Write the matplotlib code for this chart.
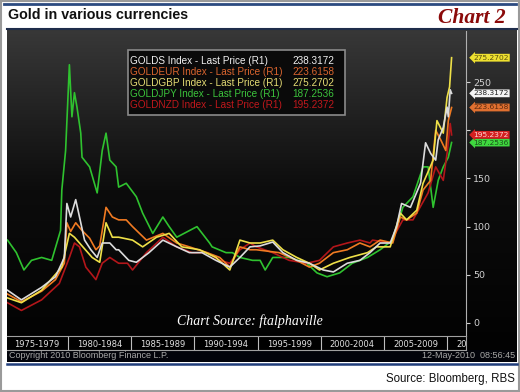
import numpy as np
import matplotlib.pyplot as plt
import matplotlib.patches as mpatches
import matplotlib.transforms as mtrans
from matplotlib.colors import LinearSegmentedColormap

# gold index by currency (year, value)
usd_t = [1975.2, 1976.3, 1977.9, 1979.0, 1979.7, 1979.9, 1980.2, 1980.6, 1980.9, 1981.3, 1981.8, 1982.3,
         1982.7, 1983.3, 1983.8, 1984.0, 1984.8, 1985.4, 1986.4, 1987.5, 1988.6, 1989.6, 1990.6, 1991.7,
         1992.8, 1993.6, 1994.4, 1995.2, 1996.2, 1997.0, 1998.1, 1999.1, 2000.2, 2001.0, 2002.1, 2003.1,
         2003.9, 2004.7, 2005.5, 2006.0, 2006.4, 2007.1, 2007.9, 2008.3, 2008.7, 2009.1, 2009.3, 2009.7,
         2010.0, 2010.1, 2010.25, 2010.36]
usd_v = [34, 24, 37, 48, 68, 124, 110, 128, 110, 86, 76, 68,
         83, 83, 76, 76, 65, 63, 73, 86, 79, 73, 73, 65,
         58, 68, 79, 80, 84, 73, 65, 62, 55, 53, 62, 65,
         73, 83, 83, 100, 124, 120, 145, 187, 176, 169, 190, 203,
         224, 214, 242, 238.3]

eur_t = [1975.2, 1976.3, 1977.9, 1979.0, 1979.7, 1979.9, 1980.2, 1980.6, 1981.1, 1981.7, 1982.2, 1982.5,
         1983.0, 1983.5, 1984.0, 1984.6, 1985.1, 1986.2, 1987.5, 1988.6, 1989.6, 1991.0, 1992.0, 1992.8,
         1993.6, 1994.4, 1994.9, 1996.7, 1998.1, 1999.1, 1999.9, 2001.0, 2002.1, 2003.1, 2003.9, 2004.7,
         2005.7, 2006.3, 2006.8, 2007.6, 2008.1, 2008.7, 2009.1, 2009.5, 2009.9, 2010.1, 2010.36]
eur_v = [30, 22, 33, 45, 62, 104, 95, 104, 96, 88, 76, 80,
         120, 110, 107, 107, 100, 86, 93, 83, 79, 73, 68, 58,
         79, 76, 76, 73, 65, 58, 62, 73, 76, 83, 79, 86,
         83, 110, 107, 114, 138, 148, 200, 190, 179, 210, 223.6]

gbp_t = [1975.2, 1976.3, 1977.9, 1979.5, 1980.1, 1980.5, 1980.9, 1981.9, 1982.5, 1983.0, 1983.5, 1984.0,
         1985.1, 1985.9, 1987.0, 1988.0, 1989.0, 1990.4, 1991.7, 1992.8, 1993.6, 1994.4, 1995.2, 1996.2,
         1997.0, 1998.1, 1999.1, 1999.9, 2001.0, 2002.3, 2003.7, 2004.4, 2005.5, 2006.3, 2006.8, 2007.6,
         2008.1, 2008.9, 2009.2, 2009.7, 2010.0, 2010.2, 2010.36]
gbp_v = [26, 21, 34, 58, 93, 89, 83, 68, 63, 104, 89, 89,
         86, 79, 89, 93, 79, 76, 68, 55, 86, 83, 83, 86,
         76, 68, 62, 55, 62, 68, 73, 79, 79, 114, 107, 117,
         145, 169, 210, 197, 234, 245, 275.3]

jpy_t = [1975.2, 1975.9, 1976.5, 1977.1, 1977.9, 1978.7, 1979.4, 1979.5, 1979.8, 1980.1, 1980.3, 1980.5,
         1980.7, 1981.0, 1981.1, 1981.7, 1982.3, 1982.7, 1983.0, 1983.3, 1983.8, 1984.0, 1984.6, 1985.4,
         1985.9, 1986.7, 1987.5, 1988.0, 1988.6, 1990.2, 1991.2, 1991.4, 1992.5, 1993.0, 1993.6, 1994.6,
         1995.2, 1995.6, 1996.2, 1997.5, 1998.9, 1999.7, 2000.5, 2001.5, 2002.5, 2003.7, 2004.7, 2005.7,
         2006.5, 2007.3, 2008.1, 2008.5, 2008.9, 2009.3, 2009.7, 2010.1, 2010.36]
jpy_v = [86, 73, 55, 65, 68, 65, 96, 138, 179, 268, 214, 239,
         224, 197, 172, 162, 135, 179, 197, 169, 162, 141, 145, 131,
         114, 93, 110, 100, 89, 100, 83, 79, 73, 73, 68, 65,
         65, 55, 68, 68, 62, 52, 48, 52, 62, 68, 76, 86,
         120, 131, 162, 162, 120, 148, 162, 172, 187.3]

nzd_t = [1975.2, 1976.3, 1977.9, 1979.3, 1980.1, 1980.5, 1980.9, 1981.4, 1982.2, 1982.7, 1983.3, 1984.0,
         1984.7, 1985.1, 1986.2, 1987.5, 1988.6, 1989.8, 1991.0, 1992.0, 1992.8, 1993.6, 1994.4, 1994.9,
         1996.2, 1997.5, 1998.9, 1999.9, 2001.0, 2002.1, 2003.1, 2003.9, 2004.1, 2005.5, 2006.5, 2007.3,
         2008.5, 2009.1, 2009.7, 2010.0, 2010.25, 2010.36]
nzd_v = [21, 13, 24, 41, 68, 83, 79, 58, 45, 62, 68, 62,
         62, 55, 73, 89, 79, 73, 73, 65, 62, 76, 83, 79,
         73, 65, 62, 65, 79, 83, 86, 83, 86, 83, 107, 107,
         135, 162, 148, 176, 207, 195.2]

names = ['GOLDS', 'GOLDEUR', 'GOLDGBP', 'GOLDJPY', 'GOLDNZD']
last_price = [238.3172, 223.6158, 275.2702, 187.2536, 195.2372]
periods = ['1975-1979', '1980-1984', '1985-1989', '1990-1994', '1995-1999', '2000-2004', '2005-2009', '2010-2014']
y_ticks = [0, 50, 100, 150, 200, 250]
y_labels = ['0', '50', '100', '150', '', '250']   # 200 sits under the price tags

line_cols = ['#dcdcdc', '#f07a22', '#eee048', '#2fc22f', '#b3161a']
text_cols = ['#f0f0f0', '#d9642e', '#e6dc74', '#3cc43c', '#c0181c']
tag_cols = ['#f4f4f4', '#e07030', '#eee030', '#3fd83f', '#d42020']
tag_txt = ['#222222', '#5a2a10', '#5a5010', '#1a501a', '#ffd0d0']

W, H = 520, 392
fig = plt.figure(figsize=(5.2, 3.92), dpi=100)
fig.patch.set_facecolor('white')

# page decoration in pixel coordinates
bg = fig.add_axes([0, 0, 1, 1])
bg.axis('off')
grad = np.linspace(0, 1, 200).reshape(-1, 1)
cm = LinearSegmentedColormap.from_list('panel', ['#020202', '#0c0c0c', '#383838'])
bg.imshow(grad, extent=[7, 517, 350, 29], origin='lower', cmap=cm, aspect='auto', zorder=1)
bg.set_xlim(0, W)
bg.set_ylim(H, 0)
bg.add_patch(mpatches.Rectangle((1, 1), W - 2, H - 2, fill=False, ec='#9a9a9a', lw=1.5))
bg.plot([4, 516], [3.5, 3.5], color='#2b4a80', lw=2)
bg.plot([7, 517], [28.5, 28.5], color='#1e2c4a', lw=1.5)
bg.add_patch(mpatches.Rectangle((7, 350), 510, 12, fc='#02030a', ec='none', zorder=2))
bg.plot([7, 517], [363.5, 363.5], color='#1f3c7a', lw=1.8)
bg.text(8, 15, 'Gold in various currencies', family='Liberation Sans', weight='bold',
        fontsize=10.3, va='center', color='#111111')
bg.text(506, 18, 'Chart 2', family='Liberation Serif', style='italic', weight='bold',
        fontsize=15.5, ha='right', va='center', color='#8b0a0a')
bg.text(515, 379, 'Source: Bloomberg, RBS', family='Liberation Sans', fontsize=8.3,
        ha='right', va='center', color='#111111')
bg.text(9, 356, 'Copyright 2010 Bloomberg Finance L.P.', family='Liberation Sans', fontsize=6.5,
        va='center', color='#a8a8a8', zorder=3)
bg.text(515, 356, '12-May-2010  08:56:45', family='Liberation Sans', fontsize=6.5,
        ha='right', va='center', color='#a8a8a8', zorder=3)

# main chart
x0, x1 = 1975.16, 2011.5
ax = fig.add_axes([7 / W, (H - 336) / H, 459 / W, 305 / H])
ax.set_facecolor('none')
series = [(usd_t, usd_v), (eur_t, eur_v), (gbp_t, gbp_v), (jpy_t, jpy_v), (nzd_t, nzd_v)]
for i in [3, 4, 1, 2, 0]:
    t, v = series[i]
    ax.plot(t, v, color=line_cols[i], lw=1.2, zorder=3)
ax.set_xlim(x0, x1)
ax.set_ylim(-13.5, 303)
for s in ['top', 'left', 'bottom']:
    ax.spines[s].set_visible(False)
ax.spines['right'].set_color('#b0b0b0')
ax.yaxis.tick_right()
ax.set_yticks(y_ticks)
ax.set_yticklabels(y_labels)
ax.tick_params(axis='y', colors='#d0d0d0', labelsize=6.8, length=3, pad=2)
ax.set_xticks([])

# price tags on the right axis
tr = mtrans.blended_transform_factory(ax.transAxes, ax.transData)
for i, v in enumerate(last_price):
    ax.text(1.016, v, f'{v:.4f}', transform=tr, fontsize=5.4, family='DejaVu Sans',
            color=tag_txt[i], va='center', ha='left', clip_on=False, zorder=20,
            bbox=dict(boxstyle='larrow,pad=0.12', fc=tag_cols[i], ec='none'))

ax.text(0.53, 0.05, 'Chart Source: ftalphaville', transform=ax.transAxes, ha='center', va='center',
        family='Liberation Serif', style='italic', fontsize=10, color='white', zorder=5)

# legend box
ov = fig.add_axes([0, 0, 1, 1], zorder=5)
ov.axis('off')
ov.set_xlim(0, W)
ov.set_ylim(H, 0)
ov.add_patch(mpatches.Rectangle((128, 50), 217, 65, fc='#0a0a0a', ec='#8a8a8a', lw=1.2))
for i, nm in enumerate(names):
    y = 60.5 + i * 11.2
    ov.text(130, y, f'{nm} Index - Last Price (R1)', family='Liberation Sans', fontsize=7.2,
            color=text_cols[i], va='center')
    ov.text(334, y, f'{last_price[i]:.4f}', family='Liberation Sans', fontsize=7.2,
            color=text_cols[i], va='center', ha='right')

# period band under the chart
band = fig.add_axes([7 / W, (H - 350) / H, 459 / W, 14 / H])
band.set_facecolor('black')
band.set_xlim(x0, x1)
band.set_ylim(0, 1)
band.set_xticks([])
band.set_yticks([])
for s in band.spines.values():
    s.set_color('#a0a0a0')
    s.set_linewidth(0.8)
band.spines['left'].set_visible(False)
for k, p in enumerate(periods):
    start = 1975 + 5 * k
    if start > 1975:
        band.axvline(start, color='#bcbcbc', lw=0.8)
    band.text(start + 2.5, 0.42, p, ha='center', va='center', fontsize=6,
              family='DejaVu Sans', color='#e0e0e0', clip_on=True)

fig.savefig('out.png', dpi=100)
